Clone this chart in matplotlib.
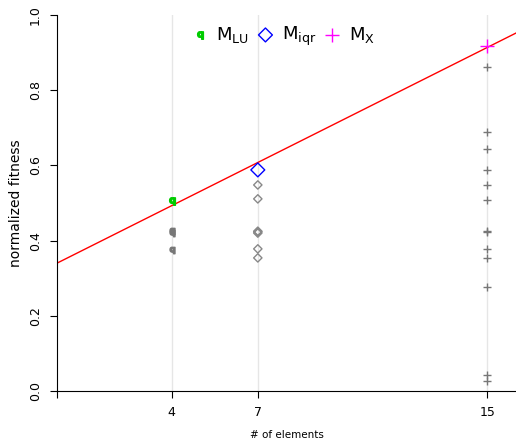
import numpy as np
import matplotlib.pyplot as plt

# data
lu_x = [4, 4, 4]
lu_y = [0.425, 0.42, 0.375]
iqr_x = [7, 7, 7, 7, 7, 7, 7]
iqr_y = [0.548, 0.511, 0.425, 0.423, 0.420, 0.378, 0.354]
mx_x = [15] * 13
mx_y = [0.861, 0.688, 0.643, 0.588, 0.548, 0.508, 0.426, 0.422,
        0.377, 0.355, 0.277, 0.043, 0.027]

best_x = [4, 7, 15]
best_y = [0.505, 0.588, 0.918]

# fitted line
intercept = 0.340
slope = 0.03825

fig = plt.figure(figsize=(5.16, 4.43), dpi=100)
ax = fig.add_axes([57/516, 52/443, 459/516, 376/443])

for xv in best_x:
    ax.axvline(xv, color='#e6e6e6', lw=1, zorder=0)

xs = np.array([0, 16])
ax.plot(xs, intercept + slope * xs, color='red', lw=1, zorder=2)

qmark = r'$\mathbf{q}$'
ax.scatter(lu_x, lu_y, marker=qmark, s=22, color='#777777', zorder=3)
ax.scatter(iqr_x, iqr_y, marker='D', s=18, facecolor='none',
           edgecolor='#888888', lw=1, zorder=3)
ax.scatter(mx_x, mx_y, marker='+', s=40, color='#777777', lw=1, zorder=3)

h1 = ax.scatter(best_x[0], best_y[0], marker=qmark, s=30, color='#00cc00',
                zorder=4, label=r'$\mathregular{M_{LU}}$')
h2 = ax.scatter(best_x[1], best_y[1], marker='D', s=50, facecolor='none',
                edgecolor='blue', lw=1, zorder=4, label=r'$\mathregular{M_{iqr}}$')
h3 = ax.scatter(best_x[2], best_y[2], marker='+', s=110, color='magenta',
                lw=1, zorder=4, label=r'$\mathregular{M_X}$')

ax.legend(handles=[h1, h2, h3], loc='upper center', ncol=3, frameon=False,
          bbox_to_anchor=(0.49, 1.018), fontsize=13, handletextpad=0.3,
          columnspacing=0.3, handlelength=1.2)

ax.set_xlim(0, 16)
ax.set_ylim(0, 1.0)
ax.set_xticks([0, 4, 7, 15])
ax.set_xticklabels(['', '4', '7', '15'])
ax.set_yticks([0, 0.2, 0.4, 0.6, 0.8, 1.0])
ax.set_yticklabels(['0.0', '0.2', '0.4', '0.6', '0.8', '1.0'],
                   rotation=90, va='center')
ax.tick_params(labelsize=9, length=5, pad=6)
ax.spines['top'].set_visible(False)
ax.spines['right'].set_visible(False)
ax.set_ylabel('normalized fitness', fontsize=10)
ax.set_xlabel('# of elements', fontsize=7.5, labelpad=8)

fig.savefig('out.png', dpi=100)
